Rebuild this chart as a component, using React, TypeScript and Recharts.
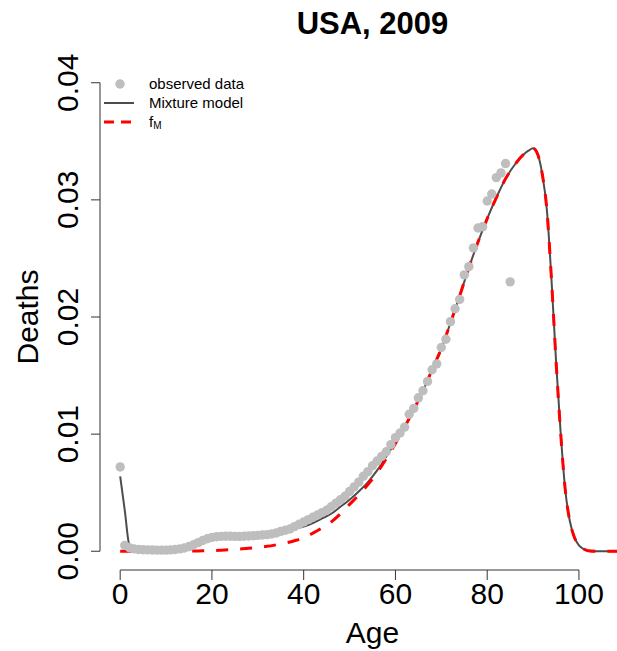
import React from "react"
import { ComposedChart, Line, Scatter, XAxis, YAxis, ReferenceLine } from "recharts"

// observed death distribution, one value per single year of age
const obsAges = [
	0, 1, 2, 3, 4, 5, 6, 7, 8, 9, 10, 11, 12, 13, 14, 15, 16, 17, 18, 19, 20, 21, 22, 23, 24, 25, 26, 27, 28, 29,
	30, 31, 32, 33, 34, 35, 36, 37, 38, 39, 40, 41, 42, 43, 44, 45, 46, 47, 48, 49, 50, 51, 52, 53, 54, 55, 56, 57,
	58, 59, 60, 61, 62, 63, 64, 65, 66, 67, 68, 69, 70, 71, 72, 73, 74, 75, 76, 77, 78, 79, 80, 81, 82, 83, 84, 85,
]
const obsDeaths = [
	0.0072, 0.0005, 0.0003, 0.0002, 0.00015, 0.00013, 0.00012, 0.00011, 0.0001, 0.0001, 0.0001, 0.00012, 0.00015,
	0.0002, 0.00028, 0.0004, 0.00056, 0.00074, 0.00092, 0.00107, 0.00118, 0.00124, 0.00127, 0.00128, 0.00128,
	0.00127, 0.00127, 0.00128, 0.0013, 0.00133, 0.00136, 0.00139, 0.00142, 0.00147, 0.00156, 0.0017, 0.0018, 0.0019,
	0.0021, 0.0023, 0.0025, 0.0027, 0.0029, 0.0031, 0.0033, 0.0035, 0.0038, 0.0041, 0.0044, 0.0047, 0.0051, 0.0055,
	0.0059, 0.0064, 0.0068, 0.0073, 0.0077, 0.0081, 0.0085, 0.0091, 0.0097, 0.0101, 0.0106, 0.0117, 0.0122, 0.0131,
	0.0137, 0.0145, 0.0155, 0.016, 0.0174, 0.0181, 0.0196, 0.0207, 0.0215, 0.0236, 0.0243, 0.0259, 0.0276, 0.0277,
	0.0299, 0.0305, 0.0319, 0.0323, 0.0331, 0.023,
]

// fitted curves
const fitAges = [
	0, 1, 2, 3, 5, 7, 9, 10, 11, 12, 13, 14, 15, 16, 17, 18, 19, 20, 22, 24, 26, 28, 30, 32, 34, 36, 38, 40, 42, 44,
	46, 48, 50, 52, 54, 56, 58, 60, 62, 64, 66, 68, 70, 72, 74, 76, 78, 80, 82, 84, 86, 88, 89, 90, 91, 92, 93, 94,
	95, 96, 97, 98, 99, 100, 101, 102, 104, 110,
]
const mixture = [
	0.0064, 0.0035, 0.0005, 0.0001, 0.0001, 0.0001, 0.00012, 0.00014, 0.00018, 0.00023, 0.0003, 0.0004, 0.00055,
	0.0007, 0.00083, 0.00096, 0.00107, 0.00116, 0.00128, 0.00135, 0.00141, 0.00147, 0.00152, 0.00158, 0.00167,
	0.0018, 0.0019, 0.0021, 0.0024, 0.0028, 0.0032, 0.0038, 0.0044, 0.0051, 0.0059, 0.0069, 0.0081, 0.0093, 0.0106,
	0.0121, 0.0137, 0.0155, 0.0173, 0.0195, 0.0218, 0.0242, 0.0264, 0.0284, 0.0302, 0.0318, 0.033, 0.0339, 0.0342,
	0.0344, 0.0339, 0.0322, 0.0292, 0.0233, 0.0163, 0.0102, 0.0053, 0.0026, 0.0012, 0.0005, 0.0002, 0.00005, 0, 0,
]
const fM = [
	0, 0, 0, 0, 0, 0, 0, 0, 0, 0, 0, 0, 0.00001, 0.00002, 0.00003, 0.00004, 0.00005, 0.00006, 0.00009, 0.00013,
	0.00019, 0.00025, 0.00033, 0.00042, 0.00055, 0.0007, 0.0009, 0.00115, 0.00155, 0.002, 0.0025, 0.0032, 0.004,
	0.0048, 0.0057, 0.0067, 0.0079, 0.0092, 0.0106, 0.0121, 0.0137, 0.0155, 0.0173, 0.0195, 0.0218, 0.0242, 0.0264,
	0.0284, 0.0302, 0.0318, 0.033, 0.0339, 0.0342, 0.0344, 0.0339, 0.0322, 0.0292, 0.0233, 0.0163, 0.0102, 0.0053,
	0.0026, 0.0012, 0.0005, 0.0002, 0.00005, 0, 0,
]

const xTicks = [0, 20, 40, 60, 80, 100]
const yTicks = [0, 0.01, 0.02, 0.03, 0.04]

const observed = obsAges.map((age, i) => ({ age, v: obsDeaths[i] }))
const mixtureData = fitAges.map((age, i) => ({ age, v: mixture[i] }))
const fMData = fitAges.map((age, i) => ({ age, v: fM[i] }))

const W = 645
const H = 651
const LEFT = 100
const TOP = 64
const BOTTOM = 81
const FONT = "'Liberation Sans', Arial, Helvetica, sans-serif"

const XTick = ({ x, y, payload }: any) => (
	<text x={x} y={y + 22} textAnchor='middle' fontSize={30} fill='#000'>
		{payload.value}
	</text>
)

const YTick = ({ x, y, payload }: any) => (
	<text x={x - 11} y={y} transform={`rotate(-90, ${x - 11}, ${y})`} textAnchor='middle' fontSize={30} fill='#000'>
		{Number(payload.value).toFixed(2)}
	</text>
)

const Dot = ({ cx, cy }: any) => <circle cx={cx} cy={cy} r={4.7} fill='#BEBEBE' />

const LegendBox = () => (
	<g fontSize={15} fill='#000'>
		<circle cx={120} cy={84} r={4.7} fill='#BEBEBE' />
		<text x={149} y={89}>observed data</text>
		<line x1={104} x2={134} y1={103} y2={103} stroke='#4D4D4D' strokeWidth={2} />
		<text x={149} y={108}>Mixture model</text>
		<line x1={104} x2={134} y1={122} y2={122} stroke='#FF0000' strokeWidth={3} strokeDasharray='10 7' />
		<text x={149} y={127}>
			f<tspan fontSize={10} dy={2}>M</tspan>
		</text>
	</g>
)

const App = () => {
	const midX = (LEFT + W) / 2
	const midY = (TOP + H - BOTTOM) / 2
	return (
		<div style={{ position: "absolute", left: 0, top: 0, width: 617, height: H, overflow: "hidden", background: "#fff" }}>
			<ComposedChart width={W} height={H} margin={{ top: TOP, right: 0, bottom: 0, left: 0 }} style={{ fontFamily: FONT }}>
				<XAxis
					type='number'
					dataKey='age'
					domain={[-4.4, 114.4]}
					allowDataOverflow
					ticks={xTicks}
					height={BOTTOM}
					axisLine={false}
					tickLine={{ stroke: "#333" }}
					tickSize={10}
					tick={<XTick />}
				/>
				<YAxis
					type='number'
					dataKey='v'
					domain={[-0.0016, 0.0416]}
					allowDataOverflow
					ticks={yTicks}
					width={LEFT}
					axisLine={false}
					tickLine={{ stroke: "#333" }}
					tickSize={9}
					tick={<YTick />}
				/>
				<ReferenceLine segment={[{ x: 0, y: -0.0016 }, { x: 100, y: -0.0016 }]} stroke='#333' />
				<ReferenceLine segment={[{ x: -4.4, y: 0 }, { x: -4.4, y: 0.04 }]} stroke='#333' />
				<Scatter data={observed} dataKey='v' shape={<Dot />} isAnimationActive={false} />
				<Line
					data={mixtureData}
					dataKey='v'
					type='monotone'
					stroke='#4D4D4D'
					strokeWidth={2}
					dot={false}
					activeDot={false}
					isAnimationActive={false}
				/>
				<Line
					data={fMData}
					dataKey='v'
					type='monotone'
					stroke='#FF0000'
					strokeWidth={3}
					strokeDasharray='12 12'
					dot={false}
					activeDot={false}
					isAnimationActive={false}
				/>
				<text x={midX} y={34} textAnchor='middle' fontSize={31} fontWeight='bold' fill='#000'>
					USA, 2009
				</text>
				<text x={midX} y={643} textAnchor='middle' fontSize={30} fill='#000'>
					Age
				</text>
				<text x={38} y={midY} transform={`rotate(-90, 38, ${midY})`} textAnchor='middle' fontSize={30} fill='#000'>
					Deaths
				</text>
				<LegendBox />
			</ComposedChart>
		</div>
	)
}

export default App
